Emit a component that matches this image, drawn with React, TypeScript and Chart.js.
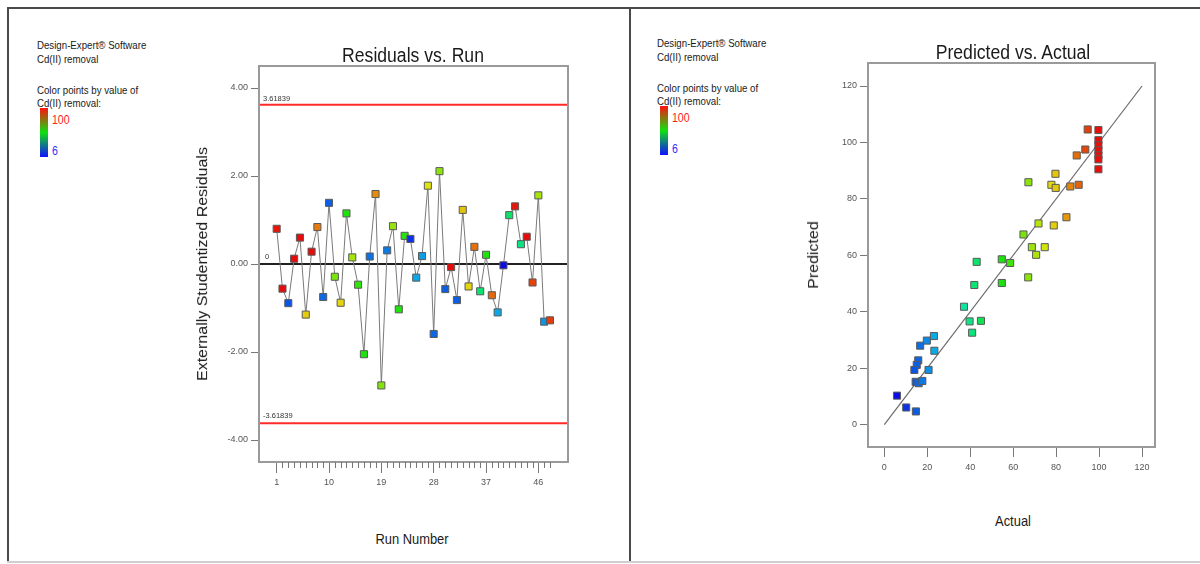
import React, { useEffect, useRef } from "react";
import { Chart, registerables } from "chart.js";

Chart.register(...registerables);

const FONT = "'Liberation Sans', Arial, sans-serif";

// ---------- Residuals vs. Run ----------
const runNumbers = [
  1, 2, 3, 4, 5, 6, 7, 8, 9, 10, 11, 12, 13, 14, 15, 16, 17, 18, 19, 20, 21, 22, 23, 24,
  25, 26, 27, 28, 29, 30, 31, 32, 33, 34, 35, 36, 37, 38, 39, 40, 41, 42, 43, 44, 45, 46, 47, 48,
];
const residuals = [
  0.8, -0.56, -0.89, 0.12, 0.6, -1.15, 0.28, 0.84, -0.75, 1.39, -0.29, -0.88, 1.15, 0.15, -0.47, -2.05,
  0.17, 1.59, -2.76, 0.31, 0.86, -1.03, 0.64, 0.57, -0.31, 0.18, 1.78, -1.59, 2.11, -0.57, -0.07, -0.82,
  1.23, -0.51, 0.39, -0.62, 0.21, -0.71, -1.1, -0.03, 1.11, 1.31, 0.45, 0.62, -0.42, 1.56, -1.31, -1.28,
];
// Cd(II) removal of each run (drives point colour)
const runRemoval = [
  99, 100, 14, 100, 100, 79, 100, 88, 16, 15, 65, 78, 55, 70, 57, 55,
  17, 86, 66, 18, 68, 55, 56, 10, 23, 22, 76, 16, 67, 15, 100, 15,
  80, 78, 89, 42, 55, 90, 23, 6, 43, 99, 40, 100, 94, 70, 21, 95,
];
const majorRuns = [1, 10, 19, 28, 37, 46];
const residualTicks = [-4, -2, 0, 2, 4];
const limitValue = 3.61839;
const runAxisMin = -2.04;
const runAxisMax = 51.1;
const residualAxisMin = -4.5;
const residualAxisMax = 4.5;

// ---------- Predicted vs. Actual ----------
const actualValues = [
  94.7, 99.7, 99.7, 99.7, 99.7, 99.7, 99.7, 99.7, 93.6, 89.6, 79.7, 67.1, 77.8, 79.8, 86.6, 90.5,
  84.8, 71.8, 78.9, 64.8, 68.7, 74.7, 70.7, 43.0, 54.7, 58.6, 67.0, 41.9, 54.7, 37.1, 39.7, 45.0,
  40.9, 23.1, 19.8, 16.7, 23.3, 15.8, 15.1, 14.0, 20.6, 14.6, 16.0, 17.7, 5.9, 10.2, 14.7,
];
const predictedValues = [
  104.6, 104.4, 100.8, 99.0, 97.2, 95.4, 94.0, 90.5, 97.5, 95.4, 88.9, 85.9, 85.0, 83.9, 84.4, 85.0,
  73.5, 71.3, 70.6, 67.4, 62.9, 62.9, 60.2, 57.7, 58.6, 57.3, 52.2, 49.5, 50.2, 41.8, 36.6, 36.8,
  32.6, 31.4, 29.8, 28.0, 26.2, 22.8, 21.2, 19.4, 19.4, 15.2, 14.7, 15.5, 10.3, 6.1, 4.7,
];
const diagonalEnds = [0, 120];
const pvaTicks = [0, 20, 40, 60, 80, 100, 120];
const actualAxisMin = -7.6;
const actualAxisMax = 126.05;
const predAxisMin = -7.9;
const predAxisMax = 128.15;

const colorMin = 6;
const colorMax = 100;

function colorFor(v: number): string {
  const t = Math.min(1, Math.max(0, (v - colorMin) / (colorMax - colorMin)));
  const hue = 240 * (1 - t);
  return `hsl(${hue.toFixed(0)}, 90%, 47%)`;
}

const framePlugin = {
  id: "frame",
  afterDatasetsDraw(chart: any) {
    const { ctx, chartArea } = chart;
    ctx.save();
    ctx.strokeStyle = "#9a9a9a";
    ctx.lineWidth = 2;
    ctx.strokeRect(chartArea.left, chartArea.top, chartArea.right - chartArea.left, chartArea.bottom - chartArea.top);
    ctx.restore();
  },
};

const minorTickPlugin = {
  id: "minorTicks",
  afterDraw(chart: any) {
    const { ctx, chartArea, scales } = chart;
    ctx.save();
    ctx.strokeStyle = "#777";
    ctx.lineWidth = 1;
    runNumbers.forEach((r) => {
      if (majorRuns.includes(r)) return;
      const x = Math.round(scales.x.getPixelForValue(r)) + 0.5;
      ctx.beginPath();
      ctx.moveTo(x, chartArea.bottom);
      ctx.lineTo(x, chartArea.bottom + 6);
      ctx.stroke();
    });
    ctx.restore();
  },
};

const limitLabelPlugin = {
  id: "limitLabels",
  afterDatasetsDraw(chart: any) {
    const { ctx, chartArea, scales } = chart;
    ctx.save();
    ctx.font = `7.5px ${FONT}`;
    ctx.fillStyle = "#333";
    ctx.textBaseline = "middle";
    ctx.textAlign = "left";
    ctx.fillText(limitValue.toFixed(5), chartArea.left + 4, scales.y.getPixelForValue(limitValue) - 6);
    ctx.fillText((-limitValue).toFixed(5), chartArea.left + 4, scales.y.getPixelForValue(-limitValue) - 7);
    ctx.fillText("0", chartArea.left + 6, scales.y.getPixelForValue(0) - 7);
    ctx.restore();
  },
};

const tickFont = { family: FONT, size: 9 };

function ResidualChart() {
  const ref = useRef<HTMLCanvasElement | null>(null);
  useEffect(() => {
    if (!ref.current) return;
    const chart = new Chart(ref.current, {
      type: "scatter",
      data: {
        datasets: [
          {
            data: runNumbers.map((r, i) => ({ x: r, y: residuals[i] })),
            showLine: true,
            borderColor: "#7a7a7a",
            borderWidth: 1,
            pointStyle: "rect",
            pointRadius: 5,
            pointBackgroundColor: runRemoval.map(colorFor),
            pointBorderColor: "#5a5a5a",
            pointBorderWidth: 1,
          },
          {
            data: [
              { x: runAxisMin, y: limitValue },
              { x: runAxisMax, y: limitValue },
            ],
            showLine: true,
            borderColor: "#ff2a2a",
            borderWidth: 2,
            pointRadius: 0,
          },
          {
            data: [
              { x: runAxisMin, y: -limitValue },
              { x: runAxisMax, y: -limitValue },
            ],
            showLine: true,
            borderColor: "#ff2a2a",
            borderWidth: 2,
            pointRadius: 0,
          },
          {
            data: [
              { x: runAxisMin, y: 0 },
              { x: runAxisMax, y: 0 },
            ],
            showLine: true,
            borderColor: "#222",
            borderWidth: 2,
            pointRadius: 0,
          },
        ],
      },
      options: {
        responsive: false,
        animation: false,
        events: [],
        layout: { padding: { top: 10, right: 12, left: 0, bottom: 0 } },
        plugins: { legend: { display: false }, tooltip: { enabled: false }, title: { display: false } },
        scales: {
          x: {
            type: "linear",
            min: runAxisMin,
            max: runAxisMax,
            afterBuildTicks: (s: any) => {
              s.ticks = runNumbers.map((v) => ({ value: v }));
            },
            afterFit: (s: any) => {
              s.height = 38;
            },
            ticks: {
              autoSkip: false,
              maxRotation: 0,
              padding: 4,
              font: tickFont,
              color: "#555",
              callback: (v: any) => (majorRuns.includes(Number(v)) ? String(v) : ""),
            },
            grid: {
              drawOnChartArea: false,
              tickLength: 11,
              tickColor: (c: any) => (c.tick && majorRuns.includes(c.tick.value) ? "#777" : "rgba(0,0,0,0)"),
            },
            border: { display: false },
          },
          y: {
            type: "linear",
            min: residualAxisMin,
            max: residualAxisMax,
            afterBuildTicks: (s: any) => {
              s.ticks = residualTicks.map((v) => ({ value: v }));
            },
            afterFit: (s: any) => {
              s.width = 59;
            },
            ticks: {
              padding: 3,
              font: tickFont,
              color: "#555",
              callback: (v: any) => Number(v).toFixed(2),
            },
            grid: { drawOnChartArea: false, tickLength: 8, tickColor: "#777" },
            border: { display: false },
          },
        },
      },
      plugins: [framePlugin, minorTickPlugin, limitLabelPlugin],
    } as any);
    return () => chart.destroy();
  }, []);
  return (
    <canvas
      ref={ref}
      width={380}
      height={444}
      style={{ position: "absolute", left: 200, top: 56, width: 380, height: 444 }}
    />
  );
}

function PvaChart() {
  const ref = useRef<HTMLCanvasElement | null>(null);
  useEffect(() => {
    if (!ref.current) return;
    const chart = new Chart(ref.current, {
      type: "scatter",
      data: {
        datasets: [
          {
            data: actualValues.map((a, i) => ({ x: a, y: predictedValues[i] })),
            showLine: false,
            pointStyle: "rect",
            pointRadius: 5,
            pointBackgroundColor: actualValues.map(colorFor),
            pointBorderColor: "#5a5a5a",
            pointBorderWidth: 1,
          },
          {
            data: diagonalEnds.map((v) => ({ x: v, y: v })),
            showLine: true,
            borderColor: "#6a6a6a",
            borderWidth: 1.2,
            pointRadius: 0,
          },
        ],
      },
      options: {
        responsive: false,
        animation: false,
        events: [],
        layout: { padding: { top: 10, right: 15, left: 0, bottom: 0 } },
        plugins: { legend: { display: false }, tooltip: { enabled: false }, title: { display: false } },
        scales: {
          x: {
            type: "linear",
            min: actualAxisMin,
            max: actualAxisMax,
            afterBuildTicks: (s: any) => {
              s.ticks = pvaTicks.map((v) => ({ value: v }));
            },
            afterFit: (s: any) => {
              s.height = 36;
            },
            ticks: { autoSkip: false, maxRotation: 0, padding: 5, font: tickFont, color: "#555" },
            grid: { drawOnChartArea: false, tickLength: 10, tickColor: "#777" },
            border: { display: false },
          },
          y: {
            type: "linear",
            min: predAxisMin,
            max: predAxisMax,
            afterBuildTicks: (s: any) => {
              s.ticks = pvaTicks.map((v) => ({ value: v }));
            },
            afterFit: (s: any) => {
              s.width = 48;
            },
            ticks: { padding: 3, font: tickFont, color: "#555" },
            grid: { drawOnChartArea: false, tickLength: 8, tickColor: "#777" },
            border: { display: false },
          },
        },
      },
      plugins: [framePlugin],
    } as any);
    return () => chart.destroy();
  }, []);
  return (
    <canvas
      ref={ref}
      width={350}
      height={430}
      style={{ position: "absolute", left: 820, top: 53, width: 350, height: 430 }}
    />
  );
}

function Txt(props: {
  x: number;
  y: number;
  size: number;
  text: string;
  color?: string;
  align?: "left" | "center";
  rotate?: boolean;
  sx?: number;
}) {
  const { x, y, size, text, color = "#1a1a1a", align = "left", rotate = false, sx = 0.88 } = props;
  let transform: string;
  let origin: string;
  if (rotate) {
    transform = `translate(-50%, -50%) rotate(-90deg) scaleY(${sx})`;
    origin = "center center";
  } else if (align === "center") {
    transform = `translate(-50%, -50%) scaleX(${sx})`;
    origin = "center center";
  } else {
    transform = `translateY(-50%) scaleX(${sx})`;
    origin = "left center";
  }
  return (
    <div
      style={{
        position: "absolute",
        left: x,
        top: y,
        fontFamily: FONT,
        fontSize: size,
        lineHeight: `${size + 2}px`,
        color,
        whiteSpace: "nowrap",
        transform,
        transformOrigin: origin,
      }}
    >
      {text}
    </div>
  );
}

function Notes(props: { x: number; y: number }) {
  const { x, y } = props;
  return (
    <>
      <Txt x={x} y={y} size={11} text="Design-Expert® Software" />
      <Txt x={x} y={y + 14} size={11} text="Cd(II) removal" />
      <Txt x={x} y={y + 45} size={11} text="Color points by value of" />
      <Txt x={x} y={y + 58} size={11} text="Cd(II) removal:" />
      <div
        style={{
          position: "absolute",
          left: x + 3,
          top: y + 63,
          width: 8,
          height: 49,
          background: "linear-gradient(to top, #1010ff, #10e010, #ff1010)",
        }}
      />
      <Txt x={x + 15} y={y + 75} size={12} text={String(colorMax)} color="#ff2020" />
      <Txt x={x + 15} y={y + 106} size={12} text={String(colorMin)} color="#3030ff" />
    </>
  );
}

export default function App() {
  return (
    <div
      style={{
        position: "absolute",
        left: 0,
        top: 0,
        width: 1200,
        height: 564,
        background: "#fff",
        overflow: "hidden",
      }}
    >
      {/* frame lines */}
      <div style={{ position: "absolute", left: 7, top: 7, width: 1193, height: 2, background: "#4a4a4a" }} />
      <div style={{ position: "absolute", left: 7, top: 7, width: 2, height: 555, background: "#4a4a4a" }} />
      <div style={{ position: "absolute", left: 629, top: 7, width: 2, height: 555, background: "#4a4a4a" }} />
      <div style={{ position: "absolute", left: 7, top: 561, width: 1193, height: 2, background: "#cfcfcf" }} />

      <Notes x={37} y={45} />
      <Notes x={657} y={43} />

      <ResidualChart />
      <PvaChart />

      <Txt x={413} y={55} size={20} text="Residuals vs. Run" align="center" />
      <Txt x={203} y={264} size={16} text="Externally Studentized Residuals" rotate />
      <Txt x={412} y={538} size={15} text="Run Number" align="center" sx={0.86} />

      <Txt x={1013} y={52} size={20} text="Predicted vs. Actual" align="center" />
      <Txt x={814} y={255} size={16} text="Predicted" rotate />
      <Txt x={1013} y={520} size={15} text="Actual" align="center" sx={0.86} />
    </div>
  );
}
